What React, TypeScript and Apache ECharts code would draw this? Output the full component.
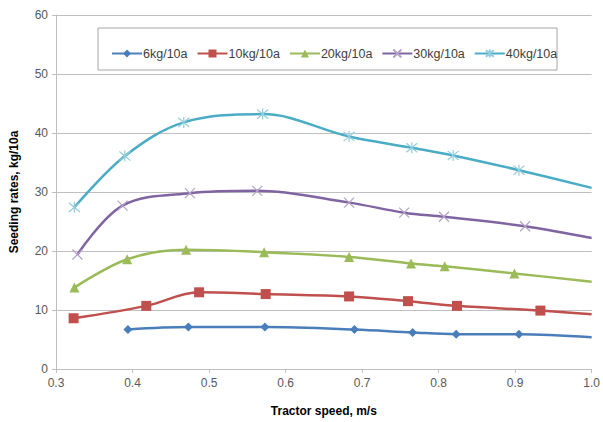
import React, { useEffect, useRef } from "react";
import * as echarts from "echarts";

const seriesNames = ["6kg/10a", "10kg/10a", "20kg/10a", "30kg/10a", "40kg/10a"];

const x6 = [0.394, 0.473, 0.573, 0.69, 0.766, 0.823, 0.905, 1.0];
const y6 = [6.7, 7.1, 7.1, 6.7, 6.2, 5.9, 5.9, 5.4];

const x10 = [0.323, 0.418, 0.487, 0.574, 0.683, 0.76, 0.824, 0.933, 1.0];
const y10 = [8.6, 10.7, 13.0, 12.7, 12.3, 11.5, 10.7, 9.9, 9.3];

const x20 = [0.324, 0.393, 0.47, 0.572, 0.683, 0.764, 0.808, 0.899, 1.0];
const y20 = [13.8, 18.6, 20.2, 19.8, 19.0, 17.9, 17.4, 16.2, 14.8];

const x30 = [0.328, 0.387, 0.475, 0.563, 0.683, 0.755, 0.807, 0.913, 1.0];
const y30 = [19.4, 27.7, 29.8, 30.2, 28.2, 26.5, 25.8, 24.2, 22.2];

const x40 = [0.324, 0.39, 0.467, 0.57, 0.683, 0.765, 0.819, 0.905, 1.0];
const y40 = [27.4, 36.1, 41.8, 43.2, 39.4, 37.5, 36.2, 33.7, 30.7];

const xTicks = { min: 0.3, max: 1.0, interval: 0.1 };
const yTicks = { min: 0, max: 60, interval: 10 };

const colors = ["#4A7EBB", "#C0504D", "#9BBB59", "#8064A2", "#4BACC6"];
const markerColors = ["#4A7EBB", "#C0504D", "#9BBB59", "#B3A2C7", "#93CDDD"];
const symbols = [
  "diamond",
  "rect",
  "triangle",
  "path://M0,0L10,10M10,0L0,10",
  "path://M0,0L10,10M10,0L0,10M5,-1L5,11",
];
const symbolSizes = [9, 10, 10, 10, 11];

function buildData(xs: number[], ys: number[]) {
  return xs.map((x, i) => {
    const item: any = { value: [x, ys[i]] };
    if (x >= 1.0) item.symbol = "none";
    return item;
  });
}

const allX = [x6, x10, x20, x30, x40];
const allY = [y6, y10, y20, y30, y40];

export default function App() {
  const ref = useRef<HTMLDivElement>(null);
  useEffect(() => {
    if (!ref.current) return;
    const chart = echarts.init(ref.current, undefined, { renderer: "svg" });
    const series = seriesNames.map((name, i) => ({
      name,
      type: "line",
      smooth: 0.35,
      data: buildData(allX[i], allY[i]),
      symbol: symbols[i],
      symbolSize: symbolSizes[i],
      showAllSymbol: true,
      lineStyle: { color: colors[i], width: 2.5 },
      itemStyle:
        i >= 3
          ? { color: markerColors[i], borderColor: markerColors[i], borderWidth: 1.2 }
          : { color: markerColors[i] },
      z: 2 + i,
    }));
    chart.setOption({
      animation: false,
      backgroundColor: "#ffffff",
      textStyle: { fontFamily: "Liberation Sans, Arial, sans-serif" },
      grid: { left: 56, right: 7, top: 15, bottom: 53, containLabel: false },
      graphic: [
        {
          type: "rect",
          shape: { x: 98, y: 28, width: 459, height: 42 },
          style: { fill: "#ffffff", stroke: "#A6A6A6", lineWidth: 1 },
          z: 10,
        },
      ],
      legend: {
        data: seriesNames,
        left: 106,
        top: 42,
        itemWidth: 30,
        itemHeight: 10,
        itemGap: 9,
        z: 20,
        textStyle: { color: "#404040", fontSize: 12.5, fontFamily: "Liberation Sans, Arial, sans-serif", padding: [0, 0, 0, -4] },
      },
      xAxis: {
        type: "value",
        min: xTicks.min,
        max: xTicks.max,
        interval: xTicks.interval,
        name: "Tractor speed, m/s",
        nameLocation: "middle",
        nameGap: 36,
        nameTextStyle: { color: "#000", fontWeight: "bold", fontSize: 12 },
        axisLine: { show: true, lineStyle: { color: "#BFBFBF" } },
        axisTick: { show: true, length: 4, lineStyle: { color: "#BFBFBF" } },
        splitLine: { show: false },
        axisLabel: {
          color: "#595959",
          fontSize: 12,
          margin: 8,
          formatter: (v: number) => v.toFixed(1),
        },
      },
      yAxis: {
        type: "value",
        min: yTicks.min,
        max: yTicks.max,
        interval: yTicks.interval,
        name: "Seeding rates, kg/10a",
        nameLocation: "middle",
        nameGap: 36,
        nameTextStyle: { color: "#000", fontWeight: "bold", fontSize: 12 },
        axisLine: { show: true, lineStyle: { color: "#BFBFBF" } },
        axisTick: { show: true, length: 4, lineStyle: { color: "#BFBFBF" } },
        splitLine: { show: true, lineStyle: { color: "#BFBFBF", width: 1 } },
        axisLabel: { color: "#595959", fontSize: 12, margin: 8 },
      },
      series,
    });
    return () => chart.dispose();
  }, []);
  return (
    <div
      ref={ref}
      style={{ position: "fixed", left: 0, top: 0, width: 603, height: 422, background: "#fff" }}
    />
  );
}
